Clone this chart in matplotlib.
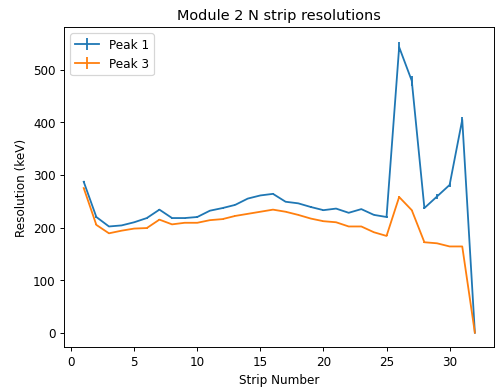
import matplotlib
matplotlib.use("Agg")
import matplotlib.pyplot as plt

strips = list(range(1, 33))

peak1 = [287, 220, 202, 204, 210, 218, 234, 218, 218, 220, 232, 237, 243, 255, 261, 264,
         249, 246, 239, 233, 236, 228, 235, 224, 220, 543, 479, 237, 259, 281, 405, 0]
peak1_err = [2, 1, 1, 1, 1, 1, 1, 1, 1, 1, 1, 1, 1, 1, 1, 1,
             1, 1, 1, 1, 1, 1, 1, 1, 1, 10, 10, 2, 4, 4, 6, 0]

peak3 = [275, 205, 189, 194, 198, 199, 215, 206, 209, 209, 214, 216, 222, 226, 230, 234,
         230, 224, 217, 212, 210, 202, 202, 191, 184, 258, 233, 172, 170, 164, 164, 0]
peak3_err = [1] * 31 + [0]

DPI = 86.7
fig, ax = plt.subplots(figsize=(497.4 / DPI, 390.4 / DPI), dpi=DPI)
ax.errorbar(strips, peak1, yerr=peak1_err, label="Peak 1")
ax.errorbar(strips, peak3, yerr=peak3_err, label="Peak 3")
ax.set_title("Module 2 N strip resolutions")
ax.set_xlabel("Strip Number")
ax.set_ylabel("Resolution (keV)")
ax.legend(loc="upper left")
fig.subplots_adjust(left=0.129, right=0.994, top=0.929, bottom=0.1095)
fig.savefig("out.png", dpi=DPI)
